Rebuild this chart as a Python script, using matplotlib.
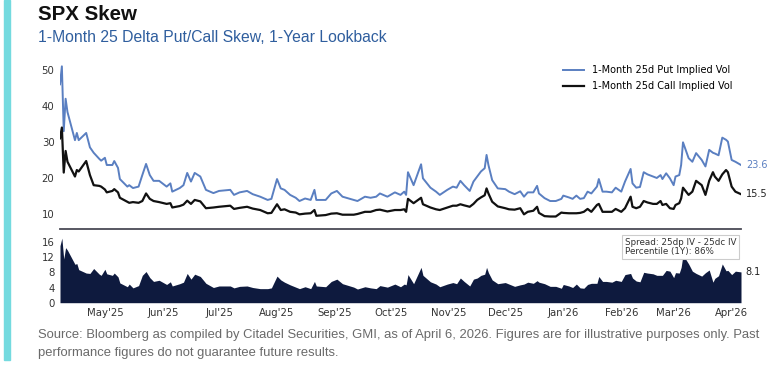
import pandas as pd
import matplotlib
matplotlib.use("Agg")
import matplotlib.pyplot as plt
import matplotlib.dates as mdates
from matplotlib.patches import Rectangle

# values
dates = ["2025-04-07", "2025-04-08", "2025-04-09", "2025-04-10", "2025-04-11", "2025-04-15",
         "2025-04-16", "2025-04-17", "2025-04-21", "2025-04-23", "2025-04-25", "2025-04-28",
         "2025-04-29", "2025-05-01", "2025-05-02", "2025-05-05", "2025-05-06", "2025-05-08",
         "2025-05-09", "2025-05-13", "2025-05-14", "2025-05-16", "2025-05-19", "2025-05-21",
         "2025-05-23", "2025-05-25", "2025-05-27", "2025-05-30", "2025-06-03", "2025-06-05",
         "2025-06-06", "2025-06-10", "2025-06-12", "2025-06-14", "2025-06-16", "2025-06-18",
         "2025-06-21", "2025-06-24", "2025-06-28", "2025-07-01", "2025-07-07", "2025-07-09",
         "2025-07-12", "2025-07-16", "2025-07-19", "2025-07-23", "2025-07-27", "2025-07-29",
         "2025-08-01", "2025-08-03", "2025-08-05", "2025-08-08", "2025-08-11", "2025-08-13",
         "2025-08-16", "2025-08-19", "2025-08-21", "2025-08-22", "2025-08-27", "2025-08-30",
         "2025-09-02", "2025-09-05", "2025-09-11", "2025-09-13", "2025-09-17", "2025-09-20",
         "2025-09-23", "2025-09-25", "2025-09-29", "2025-10-03", "2025-10-06", "2025-10-08",
         "2025-10-09", "2025-10-10", "2025-10-13", "2025-10-17", "2025-10-18", "2025-10-22",
         "2025-10-25", "2025-10-27", "2025-10-31", "2025-11-03", "2025-11-05", "2025-11-07",
         "2025-11-09", "2025-11-12", "2025-11-14", "2025-11-16", "2025-11-18", "2025-11-20",
         "2025-11-21", "2025-11-22", "2025-11-24", "2025-11-27", "2025-12-01", "2025-12-03",
         "2025-12-06", "2025-12-09", "2025-12-11", "2025-12-13", "2025-12-16", "2025-12-18",
         "2025-12-19", "2025-12-22", "2025-12-25", "2025-12-28", "2025-12-31", "2026-01-01",
         "2026-01-04", "2026-01-06", "2026-01-08", "2026-01-10", "2026-01-12", "2026-01-14",
         "2026-01-16", "2026-01-19", "2026-01-20", "2026-01-22", "2026-01-24", "2026-01-27",
         "2026-01-29", "2026-02-01", "2026-02-03", "2026-02-06", "2026-02-07", "2026-02-09",
         "2026-02-11", "2026-02-13", "2026-02-15", "2026-02-18", "2026-02-20", "2026-02-22",
         "2026-02-23", "2026-02-25", "2026-02-27", "2026-03-01", "2026-03-02", "2026-03-04",
         "2026-03-05", "2026-03-06", "2026-03-09", "2026-03-11", "2026-03-13", "2026-03-16",
         "2026-03-18", "2026-03-20", "2026-03-22", "2026-03-23", "2026-03-25", "2026-03-27",
         "2026-03-29", "2026-03-30", "2026-04-01", "2026-04-03", "2026-04-06"]

put_iv = [46, 51, 33, 42, 38.3, 30.5,
          32.5, 30.5, 32.5, 28.5, 27, 25.3,
          24.8, 25.6, 23.6, 23.6, 24.7, 22.8,
          19.7, 17.6, 18, 17.2, 17.6, 20.8,
          23.9, 20.8, 19.2, 19.2, 17.6, 18.5,
          16.2, 17.2, 18.0, 21.4, 19.0, 21.4,
          20.4, 16.7, 15.8, 16.4, 16.7, 15.3,
          16.0, 16.4, 15.5, 14.8, 13.9, 14.2,
          19.7, 17.1, 16.7, 15.3, 14.5, 13.6,
          14.3, 13.9, 16.7, 13.9, 13.9, 15.7,
          16.4, 14.8, 13.9, 13.6, 14.8, 14.5,
          14.8, 15.7, 14.8, 16.0, 15.3, 16.2,
          15.3, 21.6, 18.0, 23.8, 19.9, 17.3,
          16.2, 15.3, 16.7, 17.6, 17.3, 19.2,
          18.0, 16.4, 19.0, 20.4, 21.8, 22.7,
          26.4, 23.6, 19.4, 17.1, 16.9, 16.2,
          15.5, 16.3, 14.8, 16.0, 16.0, 17.8,
          15.7, 14.4, 13.6, 13.6, 14.2, 15.1,
          14.6, 14.2, 15.1, 14.2, 14.4, 16.2,
          15.7, 17.6, 19.7, 16.2, 16.2, 16.0,
          17.3, 16.2, 19.0, 22.5, 18.5, 17.3,
          17.5, 21.6, 21.0, 20.4, 20.0, 20.8,
          19.7, 21.3, 19.9, 18.0, 20.4, 20.8,
          23.6, 29.9, 25.5, 24.5, 26.9, 25.0,
          23.2, 27.8, 27.0, 26.8, 26.3, 31.2,
          30.6, 30.1, 25.0, 24.5, 23.6]

call_iv = [31, 34, 21.5, 27.5, 24.5, 20.4,
           22.2, 21.8, 24.7, 20.8, 18, 17.8,
           17.6, 16.8, 16.0, 16.4, 16.9, 16.0,
           14.5, 13.4, 13.1, 13.3, 13.1, 13.6,
           15.7, 14.2, 13.6, 13.3, 12.8, 13.0,
           11.8, 12.2, 12.6, 13.7, 12.8, 13.9,
           13.5, 11.6, 11.8, 12.0, 12.3, 11.4,
           11.7, 12.0, 11.5, 11.1, 10.2, 10.3,
           12.7, 11.1, 11.3, 10.6, 10.4, 9.9,
           10.1, 10.2, 11.1, 9.5, 9.7, 10.1,
           10.2, 9.8, 9.8, 10.0, 10.6, 10.6,
           11.1, 11.2, 10.7, 11.1, 11.1, 11.3,
           10.6, 14.2, 13.0, 14.5, 12.7, 11.8,
           11.3, 11.1, 11.8, 12.3, 12.3, 12.7,
           12.4, 12.0, 12.8, 13.9, 14.6, 15.2,
           17.1, 15.7, 13.4, 12.1, 11.6, 11.3,
           11.2, 11.6, 9.9, 10.6, 10.9, 12.0,
           10.3, 9.4, 9.3, 9.3, 10.4, 10.3,
           10.2, 10.2, 10.2, 10.3, 10.6, 11.4,
           10.6, 12.5, 12.8, 10.6, 10.6, 10.6,
           11.4, 10.6, 11.6, 14.8, 12.0, 11.6,
           12.0, 13.6, 13.2, 12.8, 12.8, 13.6,
           12.5, 12.8, 11.6, 11.4, 12.5, 13.0,
           14.3, 17.3, 15.3, 16.2, 19.2, 18.0,
           15.3, 19.2, 21.6, 20.4, 19.2, 21.0,
           22.2, 21.6, 17.6, 16.2, 15.5]

df = pd.DataFrame({"put": put_iv, "call": call_iv}, index=pd.to_datetime(dates))
df["spread"] = df["put"] - df["call"]

blue = "#5a7fc1"
navy = "#0e1a3e"

fig = plt.figure(figsize=(7.68, 3.67), dpi=100)
fig.patch.set_facecolor("white")

# cyan side bar
fig.patches.append(Rectangle((4 / 768, 7 / 367), 6 / 768, 1 - 7 / 367,
                             transform=fig.transFigure, color="#74dadf", zorder=0))

fig.text(38 / 768, 1 - 15 / 367, "SPX Skew", fontsize=14.8, fontweight="bold",
         family="Liberation Sans", color="#111111", va="center")
fig.text(38 / 768, 1 - 37.5 / 367, "1-Month 25 Delta Put/Call Skew, 1-Year Lookback",
         fontsize=11.3, family="Liberation Sans", color="#2f5e9e", va="center")
fig.text(38 / 768, 1 - 344 / 367,
         "Source: Bloomberg as compiled by Citadel Securities, GMI, as of April 6, 2026. "
         "Figures are for illustrative purposes only. Past\nperformance figures do not "
         "guarantee future results.",
         fontsize=9.4, family="Liberation Sans", color="#6a6a6a", va="center",
         linespacing=1.6)

x0, x1 = 60 / 768, 741 / 768
ax = fig.add_axes([x0, 1 - 229 / 367, x1 - x0, 167 / 367])
ax2 = fig.add_axes([x0, 1 - 302.7 / 367, x1 - x0, 68.4 / 367], sharex=ax)

ax.plot(df.index, df["put"], color=blue, lw=1.4, label="1-Month 25d Put Implied Vol")
ax.plot(df.index, df["call"], color="#111111", lw=1.6, label="1-Month 25d Call Implied Vol")
ax.set_ylim(5.83, 52.2)
ax.set_yticks([10, 20, 30, 40, 50])
ax.set_xlim(df.index[0], df.index[-1])
for s in ["top", "right", "left"]:
    ax.spines[s].set_visible(False)
ax.spines["bottom"].set_color("#4a4a55")
ax.spines["bottom"].set_linewidth(1.3)
ax.tick_params(axis="both", length=0, labelsize=7.3, colors="#333333", pad=4)
ax.tick_params(axis="x", labelbottom=False)
ax.legend(loc="upper right", frameon=False, fontsize=7, handlelength=2.2,
          borderaxespad=0.1, bbox_to_anchor=(0.995, 1.01), labelspacing=0.6)

ax.annotate("%.1f" % df["put"].iloc[-1], (df.index[-1], df["put"].iloc[-1]),
            xytext=(3.5, 0), textcoords="offset points", va="center",
            fontsize=7, color=blue)
ax.annotate("%.1f" % df["call"].iloc[-1], (df.index[-1], df["call"].iloc[-1]),
            xytext=(3.5, 0), textcoords="offset points", va="center",
            fontsize=7, color="#222222")

ax2.fill_between(df.index, 0, df["spread"], color=navy, lw=0)
ax2.set_ylim(0, 18)
ax2.set_yticks([0, 4, 8, 12, 16])
for s in ax2.spines.values():
    s.set_visible(False)
ax2.tick_params(axis="both", length=0, labelsize=7.3, colors="#333333", pad=4)
ax2.xaxis.set_major_locator(mdates.MonthLocator())
ax2.xaxis.set_major_formatter(mdates.DateFormatter("%b'%y"))
ax2.annotate("%.1f" % df["spread"].iloc[-1], (df.index[-1], df["spread"].iloc[-1]),
             xytext=(3.5, 0), textcoords="offset points", va="center",
             fontsize=7, color="#222222")
ax2.text(0.993, 0.95, "Spread: 25dp IV - 25dc IV\nPercentile (1Y): 86%",
         transform=ax2.transAxes, ha="right", va="top", multialignment="left",
         fontsize=6.3, color="#333333", linespacing=1.1,
         bbox=dict(boxstyle="square,pad=0.3", fc="white", ec="#cccccc", lw=0.8))

fig.savefig("out.png", dpi=100)
